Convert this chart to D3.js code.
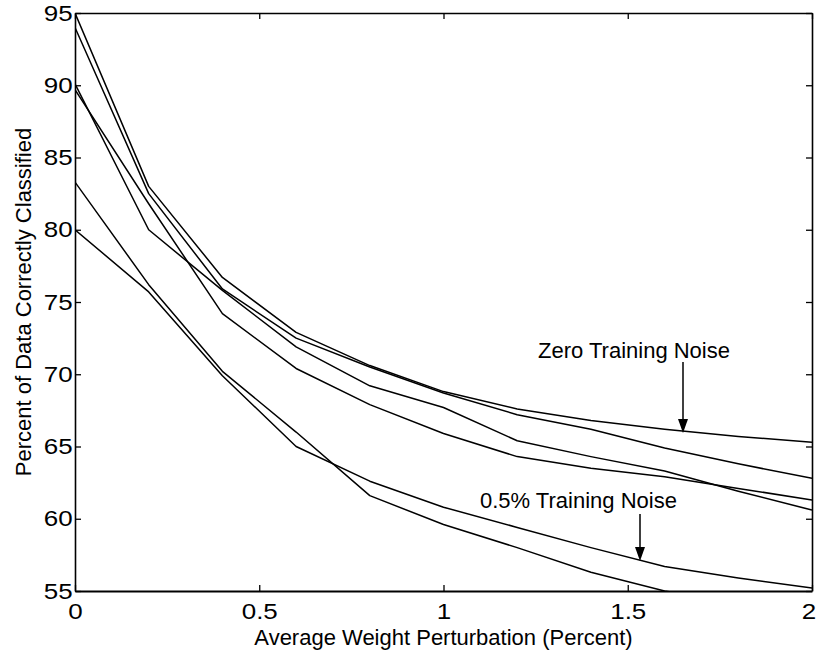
<!DOCTYPE html>
<html lang="en">
<head>
  <meta charset="UTF-8">
  <title>Percent of Data Correctly Classified</title>
  <script src="https://d3js.org/d3.v7.min.js"></script>
  <style>
    body {
      margin: 0;
      background: #fff;
    }
    svg text {
      font-family: "Liberation Sans", Arial, sans-serif;
      font-size: 22px;
      fill: #000;
    }
    .axis path { stroke: #000; stroke-width: 1.6px; }
    .axis line { stroke: #000; stroke-width: 1.3px; }
    .axis.bottom path { stroke-width: 2.2px; }
    .curve {
      fill: none;
      stroke: #000;
      stroke-width: 1.5px;
      stroke-linejoin: round;
    }
  </style>
</head>
<body>
  <svg id="chart" width="817" height="656"></svg>

  <script>
    // perturbation levels (percent)
    const perturbation = [0, 0.2, 0.4, 0.6, 0.8, 1.0, 1.2, 1.4, 1.6, 1.8, 2.0];

    // zero training noise runs
    const zeroNoiseA = [95.0, 83.0, 76.7, 72.9, 70.6, 68.8, 67.6, 66.8, 66.2, 65.7, 65.3];
    const zeroNoiseB = [94.0, 82.5, 75.9, 72.5, 70.5, 68.7, 67.2, 66.2, 64.9, 63.8, 62.8];
    const zeroNoiseC = [90.1, 80.0, 75.8, 71.9, 69.2, 67.7, 65.4, 64.3, 63.3, 61.9, 60.6];
    const zeroNoiseD = [89.7, 81.8, 74.2, 70.4, 67.9, 65.9, 64.3, 63.5, 62.9, 62.1, 61.3];

    // 0.5% training noise runs
    const halfNoiseA = [83.3, 76.2, 70.2, 66.0, 61.6, 59.6, 58.0, 56.3, 55.0, 54.2, 53.6];
    const halfNoiseB = [80.0, 75.7, 69.9, 65.0, 62.6, 60.8, 59.4, 58.0, 56.7, 55.9, 55.2];

    const allCurves = [zeroNoiseA, zeroNoiseB, zeroNoiseC, zeroNoiseD, halfNoiseA, halfNoiseB];

    const xTicks = [0, 0.5, 1, 1.5, 2];
    const yTicks = [55, 60, 65, 70, 75, 80, 85, 90, 95];

    const notes = [
      { text: "Zero Training Noise", tx: 538, ty: 358, ax: 683, ay1: 362, ay2: 433 },
      { text: "0.5% Training Noise", tx: 480, ty: 508, ax: 640, ay1: 514, ay2: 561 }
    ];

    const margin = { top: 13, right: 5, bottom: 65, left: 75 };
    const width = 817 - margin.left - margin.right;
    const height = 656 - margin.top - margin.bottom;

    const svg = d3.select("#chart");
    const g = svg.append("g")
      .attr("transform", `translate(${margin.left},${margin.top})`);

    const x = d3.scaleLinear().domain([0, 2]).range([0, width]);
    const y = d3.scaleLinear().domain([55, 95]).range([height, 0]);

    g.append("clipPath").attr("id", "plot-clip")
      .append("rect")
      .attr("width", width)
      .attr("height", height);

    const line = d3.line()
      .x((d, i) => x(perturbation[i]))
      .y(d => y(d));

    g.append("g")
      .attr("clip-path", "url(#plot-clip)")
      .selectAll(".curve")
      .data(allCurves)
      .enter()
      .append("path")
      .attr("class", "curve")
      .attr("d", line);

    // box with inward ticks on all sides
    g.append("g")
      .attr("class", "axis bottom")
      .attr("transform", `translate(0,${height})`)
      .call(d3.axisBottom(x).tickValues(xTicks).tickSizeInner(-6).tickSizeOuter(0).tickPadding(12)
        .tickFormat(d3.format("")));

    g.append("g")
      .attr("class", "axis")
      .call(d3.axisTop(x).tickValues(xTicks).tickSizeInner(-6).tickSizeOuter(0).tickFormat(""));

    g.append("g")
      .attr("class", "axis left")
      .call(d3.axisLeft(y).tickValues(yTicks).tickSizeInner(-6).tickSizeOuter(0).tickPadding(2));

    g.append("g")
      .attr("class", "axis")
      .attr("transform", `translate(${width},0)`)
      .call(d3.axisRight(y).tickValues(yTicks).tickSizeInner(-6).tickSizeOuter(0).tickFormat(""));

    // the scanned tick digits are wider than Arial
    svg.selectAll(".axis text")
      .attr("font-family", null)
      .attr("font-size", null)
      .attr("transform", "scale(1.18,1)");

    svg.selectAll(".axis.bottom text")
      .filter(d => d === 2)
      .attr("dx", "-3");

    svg.append("text")
      .attr("x", margin.left + width / 2)
      .attr("y", 645)
      .attr("text-anchor", "middle")
      .text("Average Weight Perturbation (Percent)");

    svg.append("text")
      .attr("transform", `translate(31,${margin.top + height / 2}) rotate(-90)`)
      .attr("text-anchor", "middle")
      .text("Percent of Data Correctly Classified");

    // annotations with arrows
    notes.forEach(n => {
      svg.append("text")
        .attr("x", n.tx)
        .attr("y", n.ty)
        .text(n.text);
      svg.append("line")
        .attr("x1", n.ax).attr("x2", n.ax)
        .attr("y1", n.ay1).attr("y2", n.ay2 - 10)
        .attr("stroke", "#000")
        .attr("stroke-width", 1.5);
      svg.append("path")
        .attr("d", `M${n.ax - 5},${n.ay2 - 14} L${n.ax + 5},${n.ay2 - 14} L${n.ax},${n.ay2} Z`)
        .attr("fill", "#000");
    });
  </script>
</body>
</html>
